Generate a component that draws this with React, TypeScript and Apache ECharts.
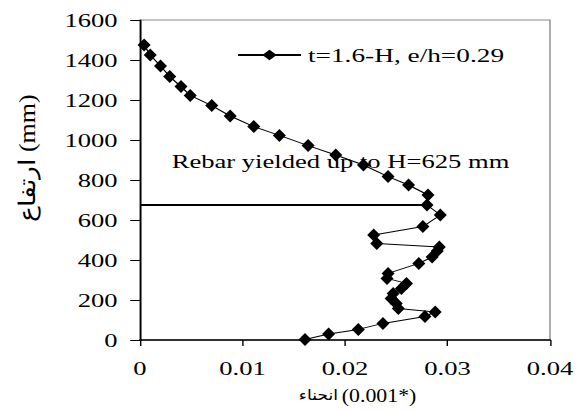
import React, { useEffect, useRef } from "react";
import * as echarts from "echarts";

// ---- data ----
const seriesName = "t=1.6-H, e/h=0.29";
const deflection = [
  0.0004, 0.001, 0.002, 0.0029, 0.004, 0.0049, 0.007, 0.0088, 0.0111, 0.0136,
  0.0164, 0.0191, 0.0218, 0.0242, 0.0262, 0.0281, 0.028, 0.0293, 0.0276, 0.0228,
  0.0231, 0.0292, 0.029, 0.0285, 0.0272, 0.0242, 0.0241, 0.026, 0.0255, 0.0247,
  0.0245, 0.025, 0.0252, 0.0288, 0.0278, 0.0237, 0.0213, 0.0184, 0.0161,
];
const heightMm = [
  1475, 1425, 1370, 1317, 1267, 1223, 1172, 1120, 1067, 1023,
  972, 925, 875, 817, 775, 725, 675, 625, 567, 525,
  483, 465, 445, 415, 383, 333, 308, 283, 258, 233,
  208, 183, 158, 140, 118, 83, 53, 30, 3,
];
const yieldLineX = [0, 0.028];
const yieldLineY = [675, 675];
const annotationText = "Rebar yielded up to H=625 mm";
const yTitle = "ارتفاع (mm)";
const xTitleWord = "انحناء";
const xTitleUnit = "(0.001*)";

// ---- layout (chart is drawn narrower and stretched horizontally) ----
const SX = 1.4;
const W = 585 / SX;
const H = 410;
const FONT = "'Liberation Serif', 'Times New Roman', serif";

export default function App() {
  const ref = useRef<HTMLDivElement>(null);
  useEffect(() => {
    const chart = echarts.init(ref.current as HTMLDivElement, null, { renderer: "svg" });
    const mainData = deflection.map((x, i) => [x, heightMm[i]]);
    const lineData = yieldLineX.map((x, i) => [x, yieldLineY[i]]);
    chart.setOption({
      animation: false,
      backgroundColor: "#ffffff",
      grid: {
        left: 100,
        top: 20,
        width: 410 / SX,
        height: 320,
        show: true,
        borderColor: "#8a8a8a",
        borderWidth: 1,
      },
      legend: {
        data: [seriesName],
        left: 169,
        top: 45,
        padding: 0,
        itemWidth: 45,
        itemHeight: 13,
        textStyle: { fontFamily: FONT, fontSize: 19.5, color: "#000" },
      },
      xAxis: {
        type: "value",
        min: 0,
        max: 0.04,
        interval: 0.01,
        splitLine: { show: false },
        axisLine: { onZero: false, lineStyle: { color: "#000", width: 1.5 } },
        axisTick: { length: 6, lineStyle: { color: "#000" } },
        axisLabel: {
          margin: 19,
          fontFamily: FONT,
          fontSize: 19,
          color: "#000",
          formatter: (v: number) => (v === 0 ? "0" : String(+v.toFixed(2))),
        },
      },
      yAxis: {
        type: "value",
        min: 0,
        max: 1600,
        interval: 200,
        splitLine: { show: false },
        axisLine: { onZero: false, lineStyle: { color: "#000", width: 1.2 } },
        axisTick: { length: 7, lineStyle: { color: "#000" } },
        axisLabel: {
          margin: 16,
          fontFamily: FONT,
          fontSize: 19,
          color: "#000",
          formatter: (v: number) => String(v),
        },
      },
      series: [
        {
          name: seriesName,
          type: "line",
          data: mainData,
          symbol: "diamond",
          symbolSize: [9.3, 13],
          itemStyle: { color: "#000" },
          lineStyle: { color: "#000", width: 1 },
          z: 3,
        },
        {
          name: "yield",
          type: "line",
          data: lineData,
          symbol: "none",
          lineStyle: { color: "#000", width: 2 },
          z: 2,
        },
      ],
      graphic: [
        {
          type: "text",
          x: 122.6,
          y: 161,
          style: {
            text: annotationText,
            fontFamily: FONT,
            fontSize: 19,
            fill: "#000",
            align: "left",
            verticalAlign: "middle",
          },
        },
        {
          type: "text",
          x: 19.3,
          y: 158,
          rotation: Math.PI / 2,
          scaleY: 0.62,
          style: {
            text: yTitle,
            fontFamily: FONT,
            fontSize: 26,
            fill: "#000",
            align: "center",
            verticalAlign: "middle",
          },
        },
        {
          type: "text",
          x: 255.4,
          y: 395,
          scaleX: 0.82,
          style: {
            text: "{a|" + xTitleWord + "} {b|" + xTitleUnit + "}",
            fill: "#000",
            align: "center",
            verticalAlign: "middle",
            rich: {
              a: { fontFamily: "'DejaVu Sans', sans-serif", fontSize: 15, fill: "#000" },
              b: { fontFamily: FONT, fontSize: 19, fill: "#000" },
            },
          },
        },
      ],
    });
    return () => chart.dispose();
  }, []);
  return (
    <div
      style={{
        position: "absolute",
        left: 0,
        top: 0,
        width: 585,
        height: H,
        overflow: "hidden",
        background: "#fff",
      }}
    >
      <div
        ref={ref}
        style={{ width: W, height: H, transform: `scaleX(${SX})`, transformOrigin: "0 0" }}
      />
    </div>
  );
}
